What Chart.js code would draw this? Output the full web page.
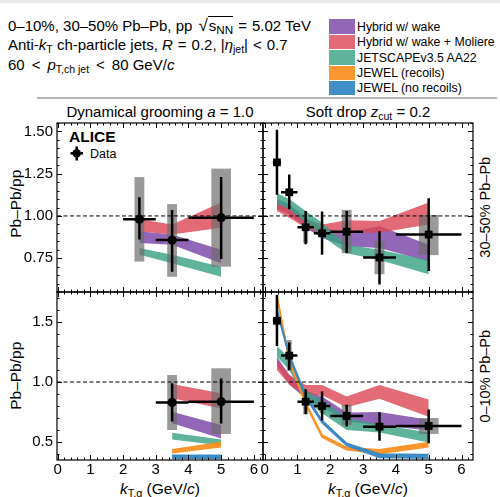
<!DOCTYPE html>
<html>
<head>
<meta charset="utf-8">
<title>Pb–Pb/pp groomed kT</title>
<script src="https://cdn.jsdelivr.net/npm/chart.js"></script>
<style>
  body { margin: 0; background: #fff; font-family: 'Liberation Sans', Arial, sans-serif; color: #000; }
  #page { position: relative; width: 500px; height: 497px; overflow: hidden; }
  #page canvas { position: absolute; left: 0; top: 0; }
  .t { position: absolute; white-space: nowrap; line-height: 1; }
  .sub { font-size: 70%; position: relative; top: 0.3em; }
  .over { border-top: 1px solid #000; padding-left: 1px; }
  .rel { margin: 0 5px; }
  .rot { position: absolute; width: 160px; text-align: center; line-height: 1; transform: rotate(-90deg); white-space: nowrap; }
  .leg { position: absolute; left: 329px; width: 170px; height: 14.5px; }
  .leg span.box { position: absolute; left: 0; top: 0; width: 26px; height: 14.5px; }
  .leg span.lab { position: absolute; left: 28px; top: 1.5px; font-size: 12.3px; line-height: 1; white-space: nowrap; }
</style>
</head>
<body>
<div id="page">
  <div style="position:absolute;left:0;top:0;width:500px;height:2.5px;background:#e9e9e9"></div>

  <div class="t" style="left:8px;top:16.6px;font-size:15px;line-height:18.5px">
    0–10%, 30–50% Pb–Pb, pp&nbsp;<span style="font-size:17px;margin-left:2px">√</span><span class="over">s<span class="sub" style="font-size:78%">NN</span></span><span class="rel">=</span>5.02 TeV<br>
    Anti-<i>k</i><span class="sub">T</span> ch-particle jets, <i>R</i><span class="rel">=</span>0.2, |<i>η</i><span class="sub">jet</span>|<span class="rel">&lt;</span>0.7<br>
    60<span class="rel" style="margin:0 7px">&lt;</span><i>p</i><span class="sub">T,ch jet</span><span class="rel" style="margin:0 7px">&lt;</span>80 GeV/<i>c</i>
  </div>

  <div id="legend"></div>

  <div style="position:absolute;left:37px;top:96.5px;width:460px;height:2px;background:#b4b4b4"></div>

  <div class="t" style="left:57px;width:206px;text-align:center;top:104px;font-size:15px">Dynamical grooming <i>a</i> = 1.0</div>
  <div class="t" style="left:263px;width:210px;text-align:center;top:104px;font-size:15px">Soft drop <i>z</i><span class="sub">cut</span> = 0.2</div>

  <div class="t" style="left:69px;top:129.2px;font-size:15.5px;font-weight:bold">ALICE</div>
  <svg style="position:absolute;left:68px;top:145px" width="18" height="17">
    <line x1="2.5" y1="8.3" x2="15" y2="8.3" stroke="#000" stroke-width="2.5"/>
    <line x1="8.7" y1="1.5" x2="8.7" y2="15.5" stroke="#000" stroke-width="2.5"/>
    <circle cx="8.7" cy="8.3" r="4.3" fill="#000"/>
  </svg>
  <div class="t" style="left:90px;top:147.6px;font-size:12.5px">Data</div>

  <div class="rot" style="left:-64px;top:196px;font-size:15.5px">Pb–Pb/pp</div>
  <div class="rot" style="left:-64px;top:368px;font-size:15.5px">Pb–Pb/pp</div>
  <div class="rot" style="left:405px;top:200px;font-size:14.5px">30–50% Pb–Pb</div>
  <div class="rot" style="left:405px;top:369px;font-size:14.5px">0–10% Pb–Pb</div>

  <div class="t" style="left:57px;width:206px;text-align:center;top:481px;font-size:15.5px"><i>k</i><span class="sub">T,g</span> (GeV/<i>c</i>)</div>
  <div class="t" style="left:263px;width:210px;text-align:center;top:481px;font-size:15.5px"><i>k</i><span class="sub">T,g</span> (GeV/<i>c</i>)</div>

  <canvas id="tl" width="500" height="497"></canvas>
  <canvas id="tr" width="500" height="497"></canvas>
  <canvas id="bl" width="500" height="497"></canvas>
  <canvas id="br" width="500" height="497"></canvas>
</div>

<script>
// ---- kT binning ----
const sdEdges = [0.25, 0.5, 1, 1.5, 2, 3, 4, 6];
const sdKt = [0.375, 0.75, 1.25, 1.75, 2.5, 3.5, 5];
const dgEdges30 = [2, 3, 4, 6];
const dgKt30 = [2.5, 3.5, 5];
const dgEdges0 = [3, 4, 6];
const dgKt0 = [3.5, 5];

// ---- ALICE data, dynamical grooming, 30-50% ----
const dg30Val    = [0.98, 0.857, 0.99];
const dg30StatLo = [0.86, 0.67, 0.745];
const dg30StatHi = [1.11, 1.035, 1.23];
const dg30SysLo  = [0.73, 0.64, 0.70];
const dg30SysHi  = [1.23, 1.07, 1.28];

// ---- ALICE data, soft drop, 30-50% ----
const sd30Val    = [1.317, 1.14, 0.933, 0.897, 0.907, 0.754, 0.89];
const sd30StatLo = [1.125, 1.04, 0.833, 0.77, 0.78, 0.595, 0.675];
const sd30StatHi = [1.51, 1.245, 1.03, 1.026, 1.03, 0.91, 1.105];
const sd30SysLo  = [1.30, 1.125, 0.84, 0.875, 0.78, 0.655, 0.768];
const sd30SysHi  = [1.33, 1.155, 0.976, 0.92, 1.036, 0.853, 1.006];

// ---- ALICE data, dynamical grooming, 0-10% ----
const dg0Val    = [0.83, 0.836];
const dg0StatLo = [0.67, 0.655];
const dg0StatHi = [0.99, 1.03];
const dg0SysLo  = [0.60, 0.567];
const dg0SysHi  = [1.058, 1.114];

// ---- ALICE data, soft drop, 0-10% ----
const sd0Val    = [1.51, 1.22, 0.836, 0.80, 0.717, 0.628, 0.633];
const sd0StatLo = [1.30, 1.10, 0.733, 0.68, 0.63, 0.51, 0.49];
const sd0StatHi = [1.725, 1.33, 0.94, 0.92, 0.81, 0.747, 0.77];
const sd0SysLo  = [1.47, 1.09, 0.73, 0.74, 0.64, 0.60, 0.567];
const sd0SysHi  = [1.55, 1.35, 0.92, 0.86, 0.81, 0.66, 0.70];

// ---- model bands (lower / upper edge) ----
const hybridDg30Lo   = [0.84, 0.83, 0.72];
const hybridDg30Hi   = [0.91, 0.89, 0.80];
const moliereDg30Lo  = [0.91, 0.89, 0.93];
const moliereDg30Hi  = [0.98, 0.95, 1.08];
const jetscapeDg30Lo = [0.77, 0.72, 0.64];
const jetscapeDg30Hi = [0.81, 0.77, 0.70];

const hybridSd30Lo   = [1.04, 1.01, 0.93, 0.87, 0.82, 0.81, 0.73];
const hybridSd30Hi   = [1.10, 1.07, 0.99, 0.93, 0.90, 0.94, 0.83];
const moliereSd30Lo  = [1.03, 0.99, 0.93, 0.89, 0.90, 0.90, 0.95];
const moliereSd30Hi  = [1.08, 1.05, 0.98, 0.95, 0.975, 0.97, 1.08];
const jetscapeSd30Lo = [1.07, 1.04, 0.96, 0.88, 0.78, 0.74, 0.655];
const jetscapeSd30Hi = [1.135, 1.10, 1.03, 0.96, 0.83, 0.80, 0.74];

const hybridDg0Lo    = [0.656, 0.53];
const hybridDg0Hi    = [0.753, 0.642];
const moliereDg0Lo   = [0.864, 0.78];
const moliereDg0Hi   = [0.983, 0.906];
const jetscapeDg0Lo  = [0.52, 0.47];
const jetscapeDg0Hi  = [0.578, 0.52];
const jewelRecDg0Lo  = [0.41, 0.46];
const jewelRecDg0Hi  = [0.435, 0.495];
const jewelNoDg0Lo   = [0.365, 0.365];
const jewelNoDg0Hi   = [0.39, 0.39];

const hybridSd0Lo    = [1.14, 0.98, 0.86, 0.79, 0.67, 0.64, 0.595];
const hybridSd0Hi    = [1.21, 1.06, 0.93, 0.88, 0.745, 0.75, 0.685];
const moliereSd0Lo   = [1.10, 0.98, 0.89, 0.89, 0.79, 0.86, 0.71];
const moliereSd0Hi   = [1.18, 1.06, 0.975, 0.975, 0.88, 0.975, 0.855];
const jetscapeSd0Lo  = [1.21, 1.10, 0.85, 0.74, 0.60, 0.58, 0.495];
const jetscapeSd0Hi  = [1.30, 1.20, 0.93, 0.85, 0.70, 0.645, 0.58];
const jewelRecSd0Lo  = [1.71, 1.17, 0.81, 0.54, 0.435, 0.405, 0.46];
const jewelRecSd0Hi  = [1.73, 1.19, 0.83, 0.56, 0.455, 0.435, 0.495];
const jewelNoSd0Lo   = [1.59, 1.21, 0.87, 0.66, 0.47, 0.37, 0.365];
const jewelNoSd0Hi   = [1.61, 1.23, 0.89, 0.68, 0.49, 0.40, 0.395];

// ---- tick labels ----
const xTicks = [0, 1, 2, 3, 4, 5, 6];
const xTickLabels = ['0', '1', '2', '3', '4', '5', '6'];
const yTicksTop = [0.75, 1.0, 1.25, 1.5];
const yTickLabelsTop = ['0.75', '1.00', '1.25', '1.50'];
const yTicksBottom = [0.5, 1.0, 1.5];
const yTickLabelsBottom = ['0.5', '1.0', '1.5'];

const modelNames = ['Hybrid w/ wake', 'Hybrid w/ wake + Moliere', 'JETSCAPEv3.5 AA22', 'JEWEL (recoils)', 'JEWEL (no recoils)'];
const modelColors = ['rgba(120,65,165,0.8)', 'rgba(220,70,85,0.8)', 'rgba(55,160,130,0.8)', 'rgba(250,145,35,0.95)', 'rgba(55,135,195,0.95)'];

// legend at the top right
const legendEl = document.getElementById('legend');
modelNames.forEach((name, i) => {
  const row = document.createElement('div');
  row.className = 'leg';
  row.style.top = (19.3 + i * 15.4) + 'px';
  row.innerHTML = '<span class="box" style="background:' + modelColors[i] + '"></span><span class="lab">' + name + '</span>';
  legendEl.appendChild(row);
});

const W = 500, H = 497;
const FONT = "'Liberation Sans', Arial, sans-serif";

function bandSets(xs, lo, hi, color, edge) {
  const base = {
    type: 'line', pointRadius: 0, tension: 0,
    borderWidth: edge ? 1.5 : 0,
    borderColor: edge ? color : 'transparent',
    backgroundColor: color
  };
  return [
    Object.assign({}, base, { data: xs.map((x, i) => ({ x, y: lo[i] })), fill: false }),
    Object.assign({}, base, { data: xs.map((x, i) => ({ x, y: hi[i] })), fill: '-1' })
  ];
}

// grey systematic boxes + black stat bars, drawn just under the markers
function errorBars(d) {
  return {
    id: 'errorBars',
    beforeDatasetDraw(chart, args) {
      if (args.index !== 0) return;
      const { ctx, chartArea: a, scales: { x, y } } = chart;
      ctx.save();
      ctx.beginPath();
      ctx.rect(a.left, a.top, a.right - a.left, a.bottom - a.top);
      ctx.clip();
      ctx.fillStyle = 'rgba(110,110,110,0.7)';
      d.kt.forEach((kt, i) => {
        const w = (d.edges[i + 1] - d.edges[i]) * 0.15;
        const x0 = x.getPixelForValue(kt - w), x1 = x.getPixelForValue(kt + w);
        const y0 = y.getPixelForValue(d.sysHi[i]), y1 = y.getPixelForValue(d.sysLo[i]);
        ctx.fillRect(x0, y0, x1 - x0, y1 - y0);
      });
      ctx.strokeStyle = '#000';
      ctx.lineWidth = 2.5;
      ctx.beginPath();
      d.kt.forEach((kt, i) => {
        const py = y.getPixelForValue(d.val[i]);
        ctx.moveTo(x.getPixelForValue(d.edges[i]), py);
        ctx.lineTo(x.getPixelForValue(d.edges[i + 1]), py);
        const px = x.getPixelForValue(kt);
        ctx.moveTo(px, y.getPixelForValue(d.statLo[i]));
        ctx.lineTo(px, y.getPixelForValue(d.statHi[i]));
      });
      ctx.stroke();
      ctx.restore();
    }
  };
}

// frame, inward ticks on all sides and the dashed unity line
function decor(yMinor) {
  return {
    id: 'decor',
    afterDatasetsDraw(chart) {
      const { ctx, chartArea: a, scales: { y } } = chart;
      const py = y.getPixelForValue(1);
      ctx.save();
      ctx.strokeStyle = '#000';
      ctx.lineWidth = 1;
      ctx.setLineDash([4, 2.5]);
      ctx.beginPath();
      ctx.moveTo(a.left, py);
      ctx.lineTo(a.right, py);
      ctx.stroke();
      ctx.restore();
    },
    afterDraw(chart) {
      const { ctx, chartArea: a, scales: { x, y } } = chart;
      ctx.save();
      ctx.strokeStyle = '#000';
      ctx.lineWidth = 1.2;
      ctx.strokeRect(a.left, a.top, a.right - a.left, a.bottom - a.top);
      ctx.lineWidth = 1;
      ctx.beginPath();
      for (let k = Math.ceil(x.min / 0.2 - 1e-6); k * 0.2 <= x.max + 1e-6; k++) {
        const px = Math.round(x.getPixelForValue(k * 0.2)) + 0.5;
        const len = k % 5 === 0 ? 5 : 2.5;
        ctx.moveTo(px, a.bottom); ctx.lineTo(px, a.bottom - len);
        ctx.moveTo(px, a.top); ctx.lineTo(px, a.top + len);
      }
      for (let k = Math.ceil(y.min / yMinor - 1e-6); k * yMinor <= y.max + 1e-6; k++) {
        const py = Math.round(y.getPixelForValue(k * yMinor)) + 0.5;
        const len = k % 5 === 0 ? 5 : 2.5;
        ctx.moveTo(a.left, py); ctx.lineTo(a.left + len, py);
        ctx.moveTo(a.right, py); ctx.lineTo(a.right - len, py);
      }
      ctx.stroke();
      ctx.restore();
    }
  };
}

function makePanel(id, p) {
  const datasets = [{
    type: 'line', showLine: false,
    data: p.data.kt.map((x, i) => ({ x, y: p.data.val[i] })),
    pointStyle: p.marker, pointRadius: p.marker === 'rect' ? 5.5 : 4.6,
    backgroundColor: '#000', borderColor: '#000', borderWidth: 0
  }];
  // first dataset ends up on top, so JEWEL goes first and Hybrid last
  p.bands.slice().reverse().forEach(b => {
    datasets.push(...bandSets(p.data.kt, b.lo, b.hi, modelColors[b.m], b.m >= 3));
  });

  const yLeft = !!p.yLabels;
  new Chart(document.getElementById(id), {
    type: 'line',
    data: { datasets },
    options: {
      responsive: false, animation: false, events: [],
      layout: {
        padding: {
          left: yLeft ? 0 : p.rect.l,
          top: p.rect.t,
          right: W - p.rect.r,
          bottom: p.showX ? H - p.rect.b - 22 : H - p.rect.b
        }
      },
      plugins: { legend: { display: false }, tooltip: { enabled: false } },
      scales: {
        x: {
          type: 'linear', min: p.xRange[0], max: p.xRange[1], display: p.showX,
          grid: { display: false, drawTicks: false }, border: { display: false },
          ticks: {
            autoSkip: false, maxRotation: 0, padding: 1, color: '#000',
            font: { family: FONT, size: 15 },
            callback: (v, i) => xTickLabels[i]
          },
          afterBuildTicks: s => { s.ticks = xTicks.map(v => ({ value: v })); },
          afterFit: s => {
            s.height = p.showX ? 22 : 0;
            s.paddingLeft = 0; s.paddingRight = 0;
          }
        },
        y: {
          type: 'linear', min: p.yRange[0], max: p.yRange[1], display: yLeft,
          grid: { display: false, drawTicks: false }, border: { display: false },
          ticks: {
            padding: 4, color: '#000',
            font: { family: FONT, size: 15 },
            callback: (v, i) => p.yLabels ? p.yLabels[i] : ''
          },
          afterBuildTicks: s => { s.ticks = p.yTicks.map(v => ({ value: v })); },
          afterFit: s => {
            s.width = yLeft ? p.rect.l : 0;
            s.paddingTop = 0; s.paddingBottom = 0;
          }
        }
      }
    },
    plugins: [errorBars(p.data), decor(p.yMinor)]
  });
}

const xLeft = [-0.02, 6.28];
const xRight = [-0.05, 6.35];
const yTop = [0.55, 1.55];
const yBottom = [0.35, 1.75];

makePanel('tl', {
  rect: { l: 57, t: 123, r: 263, b: 292 }, xRange: xLeft, yRange: yTop,
  yTicks: yTicksTop, yLabels: yTickLabelsTop, yMinor: 0.05, showX: false, marker: 'circle',
  data: { kt: dgKt30, edges: dgEdges30, val: dg30Val, statLo: dg30StatLo, statHi: dg30StatHi, sysLo: dg30SysLo, sysHi: dg30SysHi },
  bands: [
    { m: 0, lo: hybridDg30Lo, hi: hybridDg30Hi },
    { m: 1, lo: moliereDg30Lo, hi: moliereDg30Hi },
    { m: 2, lo: jetscapeDg30Lo, hi: jetscapeDg30Hi }
  ]
});

makePanel('tr', {
  rect: { l: 263, t: 123, r: 473, b: 292 }, xRange: xRight, yRange: yTop,
  yTicks: yTicksTop, yLabels: null, yMinor: 0.05, showX: false, marker: 'rect',
  data: { kt: sdKt, edges: sdEdges, val: sd30Val, statLo: sd30StatLo, statHi: sd30StatHi, sysLo: sd30SysLo, sysHi: sd30SysHi },
  bands: [
    { m: 0, lo: hybridSd30Lo, hi: hybridSd30Hi },
    { m: 1, lo: moliereSd30Lo, hi: moliereSd30Hi },
    { m: 2, lo: jetscapeSd30Lo, hi: jetscapeSd30Hi }
  ]
});

makePanel('bl', {
  rect: { l: 57, t: 292, r: 263, b: 460 }, xRange: xLeft, yRange: yBottom,
  yTicks: yTicksBottom, yLabels: yTickLabelsBottom, yMinor: 0.1, showX: true, marker: 'circle',
  data: { kt: dgKt0, edges: dgEdges0, val: dg0Val, statLo: dg0StatLo, statHi: dg0StatHi, sysLo: dg0SysLo, sysHi: dg0SysHi },
  bands: [
    { m: 0, lo: hybridDg0Lo, hi: hybridDg0Hi },
    { m: 1, lo: moliereDg0Lo, hi: moliereDg0Hi },
    { m: 2, lo: jetscapeDg0Lo, hi: jetscapeDg0Hi },
    { m: 3, lo: jewelRecDg0Lo, hi: jewelRecDg0Hi },
    { m: 4, lo: jewelNoDg0Lo, hi: jewelNoDg0Hi }
  ]
});

makePanel('br', {
  rect: { l: 263, t: 292, r: 473, b: 460 }, xRange: xRight, yRange: yBottom,
  yTicks: yTicksBottom, yLabels: null, yMinor: 0.1, showX: true, marker: 'rect',
  data: { kt: sdKt, edges: sdEdges, val: sd0Val, statLo: sd0StatLo, statHi: sd0StatHi, sysLo: sd0SysLo, sysHi: sd0SysHi },
  bands: [
    { m: 0, lo: hybridSd0Lo, hi: hybridSd0Hi },
    { m: 1, lo: moliereSd0Lo, hi: moliereSd0Hi },
    { m: 2, lo: jetscapeSd0Lo, hi: jetscapeSd0Hi },
    { m: 3, lo: jewelRecSd0Lo, hi: jewelRecSd0Hi },
    { m: 4, lo: jewelNoSd0Lo, hi: jewelNoSd0Hi }
  ]
});
</script>
</body>
</html>
